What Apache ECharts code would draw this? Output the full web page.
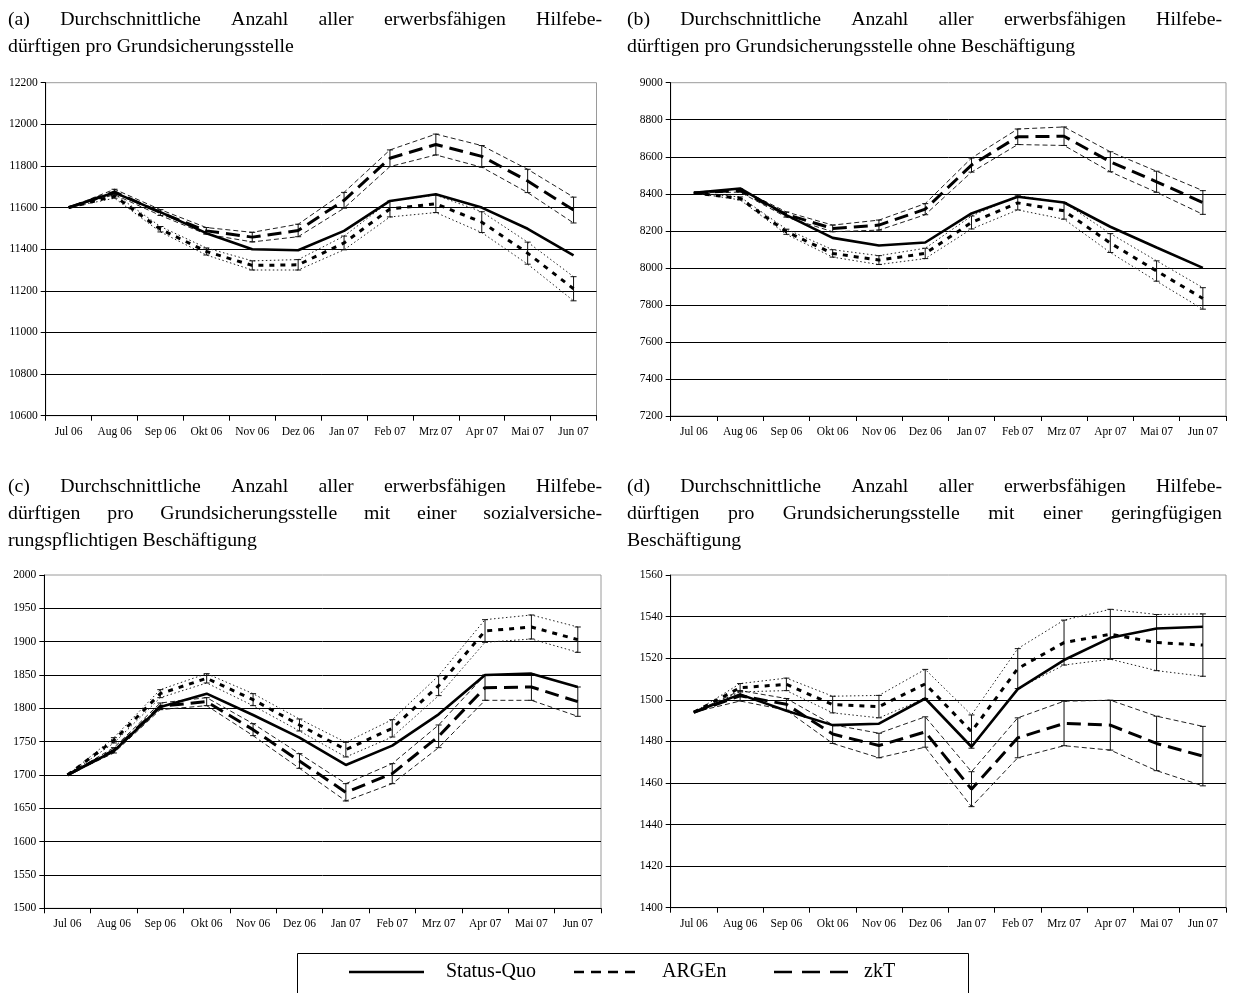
<!DOCTYPE html>
<html>
<head>
<meta charset="utf-8">
<script src="https://cdn.jsdelivr.net/npm/echarts@6/dist/echarts.min.js"></script>
<style>
  html, body { margin: 0; padding: 0; background: #fff; }
  #chart { width: 1253px; height: 993px; }
</style>
</head>
<body>
<div id="chart"></div>
<script>
// Months on the category axis
const months = ['Jul 06', 'Aug 06', 'Sep 06', 'Okt 06', 'Nov 06', 'Dez 06',
                'Jan 07', 'Feb 07', 'Mrz 07', 'Apr 07', 'Mai 07', 'Jun 07'];

// Series names (legend)
const seriesNames = ['Status-Quo', 'ARGEn', 'zkT'];

// Panel titles (one entry per printed line)
const titleA = ['(a) Durchschnittliche Anzahl aller erwerbsfähigen Hilfebe-',
                'dürftigen pro Grundsicherungsstelle'];
const titleB = ['(b) Durchschnittliche Anzahl aller erwerbsfähigen Hilfebe-',
                'dürftigen pro Grundsicherungsstelle ohne Beschäftigung'];
const titleC = ['(c) Durchschnittliche Anzahl aller erwerbsfähigen Hilfebe-',
                'dürftigen pro Grundsicherungsstelle mit einer sozialversiche-',
                'rungspflichtigen Beschäftigung'];
const titleD = ['(d) Durchschnittliche Anzahl aller erwerbsfähigen Hilfebe-',
                'dürftigen pro Grundsicherungsstelle mit einer geringfügigen',
                'Beschäftigung'];

// Value axis ranges: [min, max, step]
const yAxisA = [10600, 12200, 200];
const yAxisB = [7200, 9000, 200];
const yAxisC = [1500, 2000, 50];
const yAxisD = [1400, 1560, 20];

// (a) all employable benefit recipients
const statusQuoA = [11600, 11672, 11578, 11477, 11400, 11395, 11488, 11632, 11664, 11600, 11498, 11370];
const argenA     = [11600, 11655, 11496, 11389, 11322, 11325, 11430, 11593, 11618, 11530, 11381, 11210];
const argenErrA  = [0, 10, 13, 17, 22, 25, 33, 38, 42, 50, 53, 58];
const zktA       = [11600, 11675, 11576, 11488, 11458, 11490, 11635, 11837, 11903, 11846, 11728, 11588];
const zktErrA    = [0, 13, 14, 16, 23, 30, 38, 40, 50, 52, 56, 62];

// (b) without employment
const statusQuoB = [8405, 8429, 8285, 8162, 8121, 8137, 8294, 8384, 8353, 8222, 8110, 8000];
const argenB     = [8405, 8375, 8195, 8078, 8042, 8078, 8245, 8351, 8308, 8134, 7983, 7835];
const argenErrB  = [0, 8, 14, 20, 24, 28, 35, 38, 45, 51, 55, 58];
const zktB       = [8405, 8418, 8288, 8213, 8231, 8317, 8555, 8708, 8711, 8573, 8465, 8353];
const zktErrB    = [0, 9, 14, 18, 27, 30, 38, 42, 50, 54, 57, 64];

// (c) with employment subject to social insurance
const statusQuoC = [1700, 1736, 1802, 1822, 1790, 1756, 1715, 1744, 1791, 1850, 1852, 1832];
const argenC     = [1700, 1752, 1822, 1845, 1813, 1775, 1738, 1770, 1834, 1916, 1922, 1903];
const argenErrC  = [0, 4, 6, 7, 9, 9, 11, 13, 15, 17, 18, 19];
const zktC       = [1700, 1737, 1803, 1810, 1768, 1721, 1674, 1702, 1758, 1831, 1832, 1810];
const zktErrC    = [0, 4, 5, 6, 9, 11, 13, 15, 17, 19, 20, 22];

// (d) with marginal employment
const statusQuoD = [1494, 1502.6, 1494.7, 1487.8, 1488.5, 1500.6, 1477.4, 1505.1, 1519.1, 1529.8, 1534.3, 1535.1];
const argenD     = [1494, 1505.8, 1507.4, 1497.7, 1496.7, 1507.6, 1484.7, 1515, 1527.5, 1531.5, 1527.5, 1526.3];
const argenErrD  = [0, 2, 3, 4, 5.4, 7, 8, 9.6, 10.8, 12, 13.5, 15];
const zktD       = [1494, 1501.9, 1497.8, 1483.5, 1478, 1484.5, 1457, 1481.7, 1488.6, 1487.8, 1479, 1472.9];
const zktErrD    = [0, 2.5, 2.8, 4.5, 5.9, 7.3, 8.4, 9.6, 10.7, 12, 13.1, 14.3];

// ---------------------------------------------------------------------------
const SERIF = "'Liberation Serif', 'Times New Roman', 'DejaVu Serif', serif";

const panels = [
  { grid: { left: 45.7, top: 82.7, width: 550.8, height: 333 }, y: yAxisA,
    sq: statusQuoA, ar: argenA, arErr: argenErrA, zk: zktA, zkErr: zktErrA,
    title: titleA, titleX: [8, 602], titleY: 20 },
  { grid: { left: 670.7, top: 82.7, width: 555.3, height: 333.3 }, y: yAxisB,
    sq: statusQuoB, ar: argenB, arErr: argenErrB, zk: zktB, zkErr: zktErrB,
    title: titleB, titleX: [627, 1222], titleY: 20 },
  { grid: { left: 44.3, top: 575, width: 556.7, height: 333.3 }, y: yAxisC,
    sq: statusQuoC, ar: argenC, arErr: argenErrC, zk: zktC, zkErr: zktErrC,
    title: titleC, titleX: [8, 602], titleY: 487 },
  { grid: { left: 670.7, top: 575, width: 555.3, height: 332.7 }, y: yAxisD,
    sq: statusQuoD, ar: argenD, arErr: argenErrD, zk: zktD, zkErr: zktErrD,
    title: titleD, titleX: [627, 1222], titleY: 487 }
];

const grids = [], xAxes = [], yAxes = [], series = [], graphics = [];

function errorBarSeries(idx, values, errs) {
  const data = values.map((v, k) => [k, v - errs[k], v + errs[k]]).filter(d => d[2] > d[1]);
  return {
    type: 'custom', xAxisIndex: idx, yAxisIndex: idx, silent: true, z: 3,
    encode: { x: 0, y: [1, 2] },
    data: data,
    renderItem: function (params, api) {
      const c = api.value(0);
      const lo = api.coord([c, api.value(1)]);
      const hi = api.coord([c, api.value(2)]);
      const cap = 3;
      const st = { stroke: '#111', lineWidth: 1 };
      return { type: 'group', children: [
        { type: 'line', shape: { x1: lo[0], y1: lo[1], x2: hi[0], y2: hi[1] }, style: st },
        { type: 'line', shape: { x1: lo[0] - cap, y1: lo[1], x2: lo[0] + cap, y2: lo[1] }, style: st },
        { type: 'line', shape: { x1: hi[0] - cap, y1: hi[1], x2: hi[0] + cap, y2: hi[1] }, style: st }
      ] };
    }
  };
}

function lineSeries(idx, name, data, style, z) {
  return {
    type: 'line', name: name, xAxisIndex: idx, yAxisIndex: idx, data: data,
    symbol: 'none', silent: true, z: z,
    lineStyle: Object.assign({ color: '#000' }, style)
  };
}

panels.forEach((p, i) => {
  grids.push(Object.assign({ show: true, borderColor: '#9a9a9a', borderWidth: 1, containLabel: false }, p.grid));
  xAxes.push({
    type: 'category', gridIndex: i, data: months, boundaryGap: true,
    axisLine: { lineStyle: { color: '#000', width: 1 } },
    axisTick: { show: true, length: 5, inside: false, alignWithLabel: false, lineStyle: { color: '#000' } },
    axisLabel: { interval: 0, color: '#000', fontFamily: SERIF, fontSize: 11.5, margin: 10 },
    splitLine: { show: false }
  });
  yAxes.push({
    type: 'value', gridIndex: i, min: p.y[0], max: p.y[1], interval: p.y[2],
    axisLine: { show: true, lineStyle: { color: '#000', width: 1 } },
    axisTick: { show: true, length: 5, inside: false, lineStyle: { color: '#000' } },
    axisLabel: { color: '#000', fontFamily: SERIF, fontSize: 11.5, margin: 8,
                 formatter: v => String(v) },
    splitLine: { show: true, showMaxLine: false, lineStyle: { color: '#000', width: 1 } }
  });

  const up = (v, e) => v.map((x, k) => x + e[k]);
  const dn = (v, e) => v.map((x, k) => x - e[k]);

  // confidence bands
  series.push(lineSeries(i, 'ARGEn+', up(p.ar, p.arErr), { width: 1, type: [1.5, 2.5], color: '#222' }, 2));
  series.push(lineSeries(i, 'ARGEn-', dn(p.ar, p.arErr), { width: 1, type: [1.5, 2.5], color: '#222' }, 2));
  series.push(lineSeries(i, 'zkT+', up(p.zk, p.zkErr), { width: 1, type: [5, 3], color: '#222' }, 2));
  series.push(lineSeries(i, 'zkT-', dn(p.zk, p.zkErr), { width: 1, type: [5, 3], color: '#222' }, 2));
  series.push(errorBarSeries(i, p.ar, p.arErr));
  series.push(errorBarSeries(i, p.zk, p.zkErr));

  // main lines
  series.push(lineSeries(i, seriesNames[0], p.sq, { width: 2.6, type: 'solid' }, 5));
  series.push(lineSeries(i, seriesNames[1], p.ar, { width: 3, type: [5, 6] }, 5));
  series.push(lineSeries(i, seriesNames[2], p.zk, { width: 3, type: [14, 7] }, 5));
});

// ---- panel titles (justified block text) ----
const measureCtx = document.createElement('canvas').getContext('2d');
const TITLE_FONT = '19.8px ' + SERIF;
const LINE_STEP = 27;

function textLine(text, x0, x1, y, justify) {
  if (!justify) {
    return [{ type: 'text', x: x0, y: y, silent: true,
              style: { text: text, font: TITLE_FONT, fill: '#000', align: 'left', verticalAlign: 'middle' } }];
  }
  measureCtx.font = TITLE_FONT;
  const words = text.split(' ');
  const widths = words.map(w => measureCtx.measureText(w).width);
  const total = widths.reduce((a, b) => a + b, 0);
  const gap = (x1 - x0 - total) / (words.length - 1);
  let x = x0;
  return words.map((w, k) => {
    const el = { type: 'text', x: x, y: y, silent: true,
                 style: { text: w, font: TITLE_FONT, fill: '#000', align: 'left', verticalAlign: 'middle' } };
    x += widths[k] + gap;
    return el;
  });
}

panels.forEach(p => {
  p.title.forEach((line, k) => {
    const last = k === p.title.length - 1;
    textLine(line, p.titleX[0], p.titleX[1], p.titleY + k * LINE_STEP, !last).forEach(el => graphics.push(el));
  });
});

// ---- legend box ----
const LEG_Y = 972;
const LEG_FONT = '20px ' + SERIF;
graphics.push({ type: 'rect', shape: { x: 297.5, y: 953.5, width: 671, height: 60 }, silent: true,
                style: { fill: '#fff', stroke: '#000', lineWidth: 1 } });
const legendItems = [
  { x1: 349, x2: 424, tx: 446, dash: null },
  { x1: 574, x2: 640, tx: 662, dash: [10, 7] },
  { x1: 774, x2: 849, tx: 864, dash: [18, 10] }
];
legendItems.forEach((it, k) => {
  graphics.push({ type: 'line', silent: true, shape: { x1: it.x1, y1: LEG_Y, x2: it.x2, y2: LEG_Y },
                  style: { stroke: '#000', lineWidth: 2.6, lineDash: it.dash } });
  graphics.push({ type: 'text', x: it.tx, y: LEG_Y, silent: true,
                  style: { text: seriesNames[k], font: LEG_FONT, fill: '#000', align: 'left', verticalAlign: 'middle' } });
});

const chart = echarts.init(document.getElementById('chart'), null, { renderer: 'canvas' });
chart.setOption({
  animation: false,
  backgroundColor: '#fff',
  grid: grids,
  xAxis: xAxes,
  yAxis: yAxes,
  series: series,
  graphic: graphics
});
</script>
</body>
</html>
